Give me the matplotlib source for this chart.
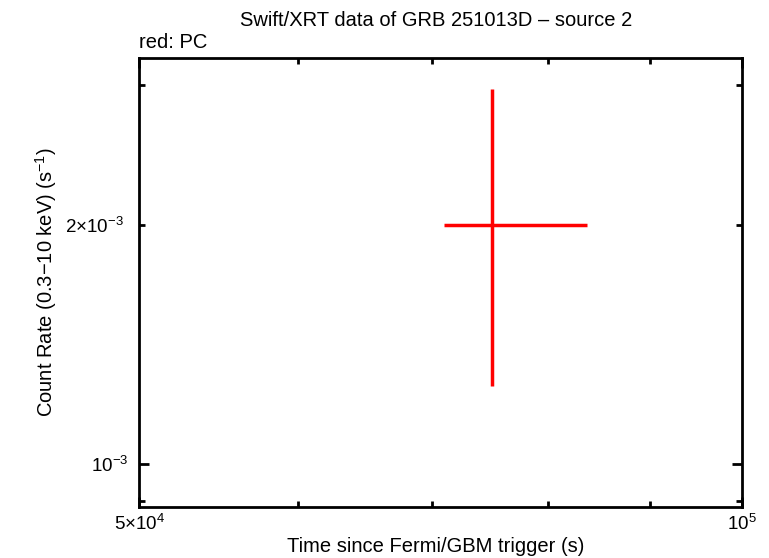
import matplotlib
matplotlib.use("Agg")
import matplotlib.pyplot as plt
from matplotlib.ticker import FixedLocator, FixedFormatter

plt.rcParams['font.family'] = ['Liberation Sans', 'DejaVu Sans']
plt.rcParams['mathtext.fontset'] = 'custom'
plt.rcParams['mathtext.rm'] = 'Liberation Sans'
plt.rcParams['mathtext.it'] = 'Liberation Sans:italic'
plt.rcParams['mathtext.bf'] = 'Liberation Sans:bold'

# Data (PC mode)
time = [7.50e4]
time_lo = [7.10e4]
time_hi = [8.37e4]
rate = [2.0e-3]
rate_lo = [1.255e-3]
rate_hi = [2.96e-3]

xlim = (5e4, 1e5)
ylim = (0.884e-3, 3.24e-3)
x_major = [5e4, 1e5]
x_major_labels = [r'$5{\times}10^{4}$', r'$10^{5}$']
x_minor = [6e4, 7e4, 8e4, 9e4]
y_major = [1e-3]
y_major_labels = [r'$10^{-3}$']
y_minor = [9e-4, 2e-3, 3e-3]
y_minor_labels = ['', r'$2{\times}10^{-3}$', '']

fig = plt.figure(figsize=(7.69, 5.58), dpi=100)
L, R, T, B = 139.3, 742.0, 58.0, 506.7
ax = fig.add_axes([L/769, 1-B/558, (R-L)/769, (B-T)/558])
ax.set_xscale('log')
ax.set_yscale('log')

xerr = [[t - lo for t, lo in zip(time, time_lo)], [hi - t for t, hi in zip(time, time_hi)]]
yerr = [[r - lo for r, lo in zip(rate, rate_lo)], [hi - r for r, hi in zip(rate, rate_hi)]]
ax.errorbar(time, rate, xerr=xerr, yerr=yerr, fmt='none', ecolor='#ff0000',
            elinewidth=2.5, capsize=0)

ax.set_xlim(*xlim)
ax.set_ylim(*ylim)

ax.xaxis.set_major_locator(FixedLocator(x_major))
ax.xaxis.set_major_formatter(FixedFormatter(x_major_labels))
ax.xaxis.set_minor_locator(FixedLocator(x_minor))
ax.xaxis.set_minor_formatter(FixedFormatter([''] * len(x_minor)))
ax.yaxis.set_major_locator(FixedLocator(y_major))
ax.yaxis.set_major_formatter(FixedFormatter(y_major_labels))
ax.yaxis.set_minor_locator(FixedLocator(y_minor))
ax.yaxis.set_minor_formatter(FixedFormatter(y_minor_labels))

for s in ax.spines.values():
    s.set_linewidth(2)
ax.tick_params(which='both', direction='in', top=True, right=True, width=2,
               labelsize=13.5, colors='black')
ax.tick_params(which='major', length=7, pad=8)
ax.tick_params(which='minor', length=4, pad=11)
ax.tick_params(axis='x', which='major', pad=5)

ax.set_xlabel('Time since Fermi/GBM trigger (s)', fontsize=14.5)
ax.xaxis.set_label_coords((436 - L)/(R - L), (B - 546)/(B - T))
ax.xaxis.label.set_va('center')
ax.set_ylabel(r'Count Rate (0.3$-$10 keV) (s$^{-1}$)', fontsize=14.5)
ax.yaxis.set_label_coords((46 - L)/(R - L), 0.5)
ax.yaxis.label.set_va('center')

fig.text(436/769, 1-20/558, 'Swift/XRT data of GRB 251013D \u2013 source 2',
         ha='center', va='center', fontsize=14.5)
fig.text(139/769, 1-42/558, 'red: PC', ha='left', va='center', fontsize=14.5)

fig.savefig('out.png', dpi=100)
